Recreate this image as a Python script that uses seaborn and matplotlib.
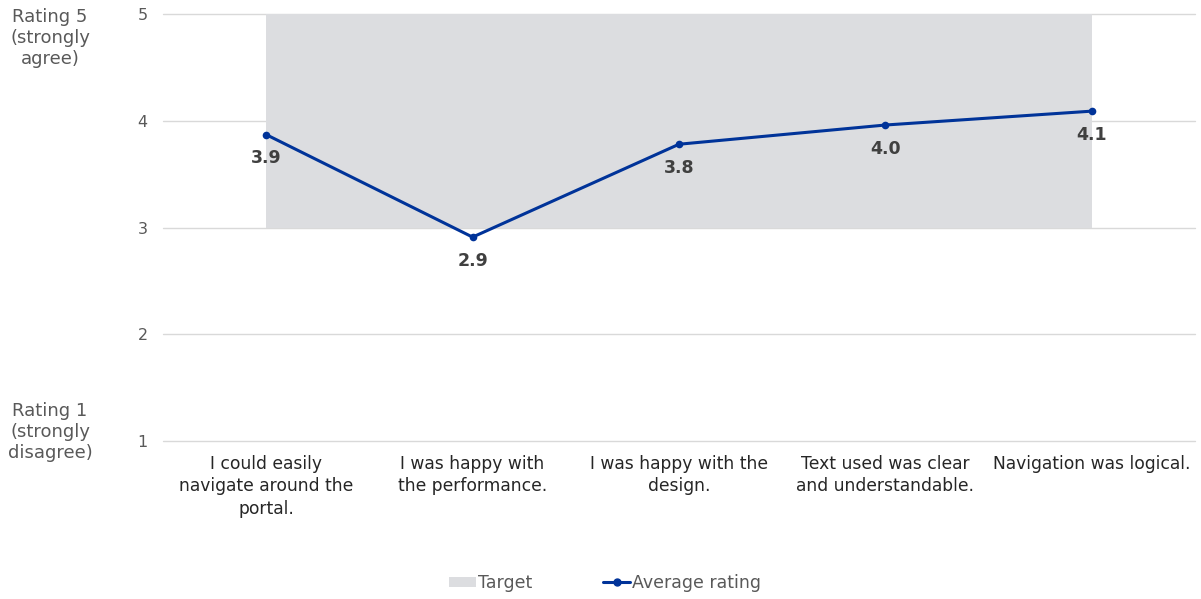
import matplotlib
matplotlib.use("Agg")
import matplotlib.pyplot as plt
from matplotlib.patches import Patch
from matplotlib.lines import Line2D
import seaborn as sns
import pandas as pd

categories = [
    "I could easily\nnavigate around the\nportal.",
    "I was happy with\nthe performance.",
    "I was happy with the\ndesign.",
    "Text used was clear\nand understandable.",
    "Navigation was logical.",
]
average_rating = [3.87, 2.91, 3.78, 3.96, 4.09]
value_labels = ["3.9", "2.9", "3.8", "4.0", "4.1"]
target_low = [3, 3, 3, 3, 3]
target_high = [5, 5, 5, 5, 5]
y_ticks = [1, 2, 3, 4, 5]

sns.set_theme(style="white")
plt.rcParams["font.family"] = ["DejaVu Sans"]

LINE_COLOR = "#003399"
BAND_COLOR = "#dcdde0"
TEXT_GRAY = "#595959"

df = pd.DataFrame({"pos": range(len(categories)), "rating": average_rating})

fig = plt.figure(figsize=(12.01, 5.99), dpi=100)
ax = fig.add_axes([163 / 1201, 1 - 441 / 599, (1195 - 163) / 1201, (441 - 14) / 599])

ax.fill_between(df["pos"], target_low, target_high, color=BAND_COLOR, linewidth=0, zorder=1)
sns.lineplot(data=df, x="pos", y="rating", ax=ax, color=LINE_COLOR, linewidth=2.2,
             marker="o", markersize=5.5, markeredgewidth=0, zorder=3)

for x, y, lab in zip(df["pos"], average_rating, value_labels):
    ax.annotate(lab, (x, y), xytext=(0, -17), textcoords="offset points",
                ha="center", va="center", fontsize=12.5, fontweight="bold", color="#404040")

ax.set_xlim(-0.5, len(categories) - 0.5)
ax.set_ylim(1, 5)
ax.set_yticks(y_ticks)
ax.set_yticklabels([str(t) for t in y_ticks], color=TEXT_GRAY, fontsize=11.5)
ax.set_xticks(range(len(categories)))
ax.set_xticklabels(categories, fontsize=12.3, color="#262626", linespacing=1.32)
ax.tick_params(axis="both", length=0)
ax.tick_params(axis="y", pad=11)
ax.tick_params(axis="x", pad=10)
ax.set_xlabel("")
ax.set_ylabel("")
ax.grid(axis="y", color="#d9d9d9", linewidth=1, zorder=0)
for gl in ax.get_ygridlines():
    gl.set_clip_on(False)
ax.set_axisbelow(True)
for s in ax.spines.values():
    s.set_visible(False)

fig.text(50 / 1201, 1 - 38 / 599, "Rating 5\n(strongly\nagree)", ha="center", va="center",
         fontsize=13, color=TEXT_GRAY, linespacing=1.25)
fig.text(50 / 1201, 1 - 432 / 599, "Rating 1\n(strongly\ndisagree)", ha="center", va="center",
         fontsize=13, color=TEXT_GRAY, linespacing=1.25)

handles = [
    Patch(facecolor=BAND_COLOR, edgecolor="none", label="Target"),
    Line2D([0], [0], color=LINE_COLOR, linewidth=2.2, marker="o", markersize=5, label="Average rating"),
]
leg = fig.legend(handles=handles, loc="center", bbox_to_anchor=(605 / 1201, 1 - 583 / 599),
                 ncol=2, frameon=False, fontsize=12.5, handlelength=1.55, handleheight=0.5,
                 handletextpad=0.12, columnspacing=4.1)
for t in leg.get_texts():
    t.set_color(TEXT_GRAY)

fig.savefig("out.png", dpi=100)
